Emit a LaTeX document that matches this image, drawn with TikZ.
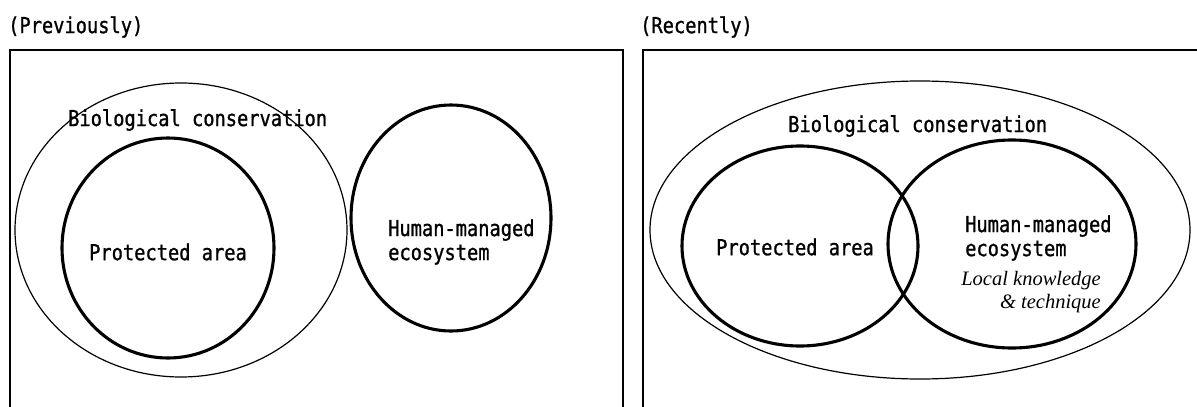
\documentclass[tikz,border=0pt]{standalone}
\usepackage{fontspec}
\usepackage{tikz}
\usetikzlibrary{positioning}
\newfontfamily\gothic[FakeStretch=0.85,FakeBold=1]{DejaVu Sans Mono}
\newfontfamily\bookserif{Liberation Serif}

\tikzset{
	thinring/.style={line width=1.2pt},
	thickring/.style={line width=3.1pt},
	panel/.style={line width=1.4pt},
	lbl/.style={font=\gothic\fontsize{22}{24}\selectfont,inner sep=0pt,align=left},
	ital/.style={font=\bookserif\itshape\fontsize{20.5}{23}\selectfont,inner sep=0pt,align=right}
}

\begin{document}
\begin{tikzpicture}[x=1pt,y=-1pt]
		\useasboundingbox (0,0) rectangle (1197,407);
		\draw[panel] (10,420) -- (10,50) -- (623,50) -- (623,420);
		\draw[panel] (643,420) -- (643,50) -- (1210,50);
		\node[lbl,anchor=west] (prevtitle) at (8,27) {(Previously)};
		\node[lbl,anchor=west] (recenttitle) at (640,27) {(Recently)};
		% previously
		\draw[thinring] (181,230) ellipse [x radius=166, y radius=147];
		\draw[thickring] (168,248) ellipse [x radius=106, y radius=110];
		\draw[thickring] (451,218) ellipse [x radius=100, y radius=113];
		\node[lbl,anchor=west] (bioleft) at (68,120) {Biological conservation};
		\node[lbl] (protleft) at (168,252) {Protected area};
		\node[lbl,anchor=west] (humanleft) at (388,242) {Human-managed\\ecosystem};
		% recently
		\draw[thinring] (920,230) ellipse [x radius=270, y radius=149];
		\draw[thickring] (800,246) ellipse [x radius=118, y radius=100];
		\draw[thickring] (1012,244) ellipse [x radius=124, y radius=104];
		\node[lbl,anchor=west] (bioright) at (788,126) {Biological conservation};
		\node[lbl] (protright) at (795,247) {Protected area};
		\node[lbl,anchor=west] (humanright) at (965,238) {Human-managed\\ecosystem};
		\node[ital,anchor=east] (localright) at (1101,292) {Local knowledge\\\& technique};
	\end{tikzpicture}
\end{document}
